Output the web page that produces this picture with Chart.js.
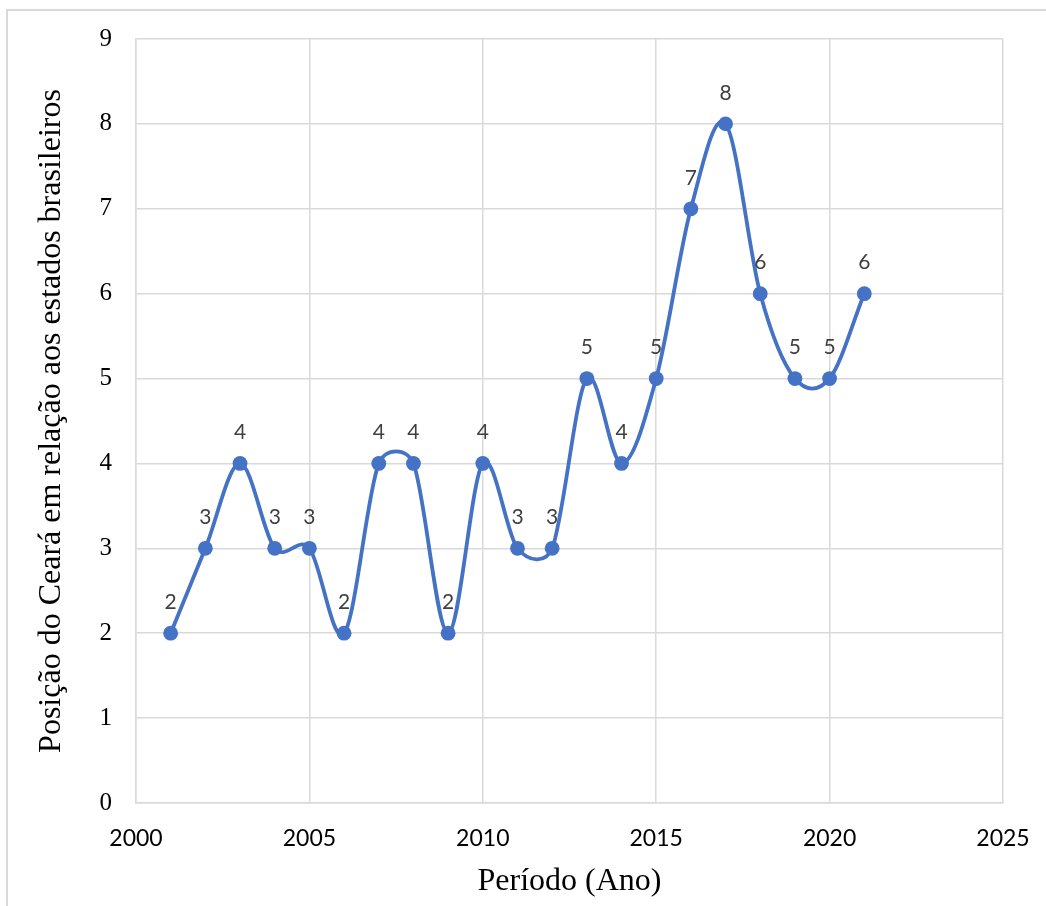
<!DOCTYPE html>
<html lang="pt">
<head>
<meta charset="utf-8">
<title>Posição do Ceará</title>
<script src="https://cdn.jsdelivr.net/npm/chart.js@4.4.1/dist/chart.umd.min.js"></script>
<style>
  html, body { margin: 0; padding: 0; background: #ffffff; }
  #wrap { width: 1046px; height: 906px; position: relative; }
</style>
</head>
<body>
<div id="wrap"><canvas id="chart" width="1046" height="906"></canvas></div>
<script>
// Ranking do Ceará por ano
const years = [2001, 2002, 2003, 2004, 2005, 2006, 2007, 2008, 2009, 2010, 2011,
               2012, 2013, 2014, 2015, 2016, 2017, 2018, 2019, 2020, 2021];
const positions = [2, 3, 4, 3, 3, 2, 4, 4, 2, 4, 3, 3, 5, 4, 5, 7, 8, 6, 5, 5, 6];
const xTicks = [2000, 2005, 2010, 2015, 2020, 2025];
const yTicks = [0, 1, 2, 3, 4, 5, 6, 7, 8, 9];

const points = years.map((y, i) => ({ x: y, y: positions[i] }));

const GRID = '#d9d9d9';
const BLUE = '#4472C4';
const SERIF = '"Liberation Serif", "Times New Roman", serif';
const SANS = 'Lato, "Open Sans", sans-serif';

// Moldura clara ao redor do gráfico
const framePlugin = {
  id: 'frame',
  beforeDraw(chart) {
    const ctx = chart.ctx;
    ctx.save();
    ctx.fillStyle = '#ffffff';
    ctx.fillRect(0, 0, chart.width, chart.height);
    ctx.strokeStyle = GRID;
    ctx.lineWidth = 2;
    ctx.strokeRect(7, 10, chart.width + 20, chart.height + 20);
    ctx.restore();
  }
};

// Curva suavizada: braços de controle = 1/6 da corda vizinha,
// limitados à metade do segmento (estilo "linha suavizada" de planilha)
const smoothCurve = {
  id: 'smoothCurve',
  beforeDatasetsDraw(chart) {
    const meta = chart.getDatasetMeta(0);
    const line = meta.dataset;
    if (line && typeof line.updateControlPoints === 'function') {
      line.updateControlPoints(chart.chartArea, meta.indexAxis);
    }
    const pts = meta.data;
    const n = pts.length;
    const dist = (a, b) => Math.hypot(b.x - a.x, b.y - a.y);
    for (let i = 0; i < n; i++) {
      const p = pts[i];
      const prev = pts[Math.max(0, i - 1)];
      const next = pts[Math.min(n - 1, i + 1)];
      const chord = dist(prev, next);
      const ux = chord ? (next.x - prev.x) / chord : 0;
      const uy = chord ? (next.y - prev.y) / chord : 0;
      const isEnd = (i === 0 || i === n - 1);
      const base = isEnd ? chord / 3 : chord / 6;
      const armIn = i > 0 ? Math.min(base, dist(prev, p) / 2) : 0;
      const armOut = i < n - 1 ? Math.min(base, dist(p, next) / 2) : 0;
      p.cp1x = p.x - ux * armIn;
      p.cp1y = p.y - uy * armIn;
      p.cp2x = p.x + ux * armOut;
      p.cp2y = p.y + uy * armOut;
    }
  }
};

// Rótulos de valor acima de cada ponto
const valueLabels = {
  id: 'valueLabels',
  afterDatasetsDraw(chart) {
    const ctx = chart.ctx;
    const meta = chart.getDatasetMeta(0);
    ctx.save();
    ctx.font = '21px ' + SANS;
    ctx.fillStyle = '#404040';
    ctx.textAlign = 'center';
    ctx.textBaseline = 'middle';
    meta.data.forEach((pt, i) => {
      ctx.fillText(String(positions[i]), pt.x, pt.y - 31);
    });
    ctx.restore();
  }
};

new Chart(document.getElementById('chart'), {
  type: 'line',
  data: {
    datasets: [{
      data: points,
      borderColor: BLUE,
      backgroundColor: BLUE,
      borderWidth: 3.8,
      pointRadius: 7.4,
      pointHoverRadius: 7.4,
      pointBorderWidth: 0,
      tension: 0.4,
      fill: false
    }]
  },
  options: {
    responsive: false,
    animation: false,
    events: [],
    layout: { padding: { left: 24, right: 43, top: 39, bottom: 0 } },
    plugins: {
      legend: { display: false },
      tooltip: { enabled: false }
    },
    scales: {
      x: {
        type: 'linear',
        min: 2000,
        max: 2025,
        afterBuildTicks(scale) { scale.ticks = xTicks.map(v => ({ value: v })); },
        afterFit(scale) { scale.height = 103; scale.paddingLeft = 0; scale.paddingRight = 0; },
        grid: { color: GRID, lineWidth: 1.5, drawTicks: false },
        border: { color: GRID, width: 1.5 },
        ticks: {
          padding: 22,
          color: '#000000',
          font: { family: SANS, size: 23 },
          callback: v => String(v),
          maxRotation: 0
        },
        title: {
          display: true,
          text: 'Período (Ano)',
          color: '#000000',
          font: { family: SERIF, size: 32 },
          padding: { top: 0, bottom: 5 }
        }
      },
      y: {
        min: 0,
        max: 9,
        afterBuildTicks(scale) { scale.ticks = yTicks.map(v => ({ value: v })); },
        afterFit(scale) { scale.width = 112; scale.paddingTop = 0; scale.paddingBottom = 0; },
        grid: { color: GRID, lineWidth: 1.5, drawTicks: false },
        border: { color: GRID, width: 1.5 },
        ticks: {
          padding: 24,
          color: '#000000',
          font: { family: SERIF, size: 25 },
          callback: v => String(v)
        },
        title: {
          display: true,
          text: 'Posição do Ceará em relação aos estados brasileiros',
          color: '#000000',
          font: { family: SERIF, size: 32 },
          padding: { top: 8, bottom: 0 }
        }
      }
    }
  },
  plugins: [framePlugin, smoothCurve, valueLabels]
});
</script>
</body>
</html>
